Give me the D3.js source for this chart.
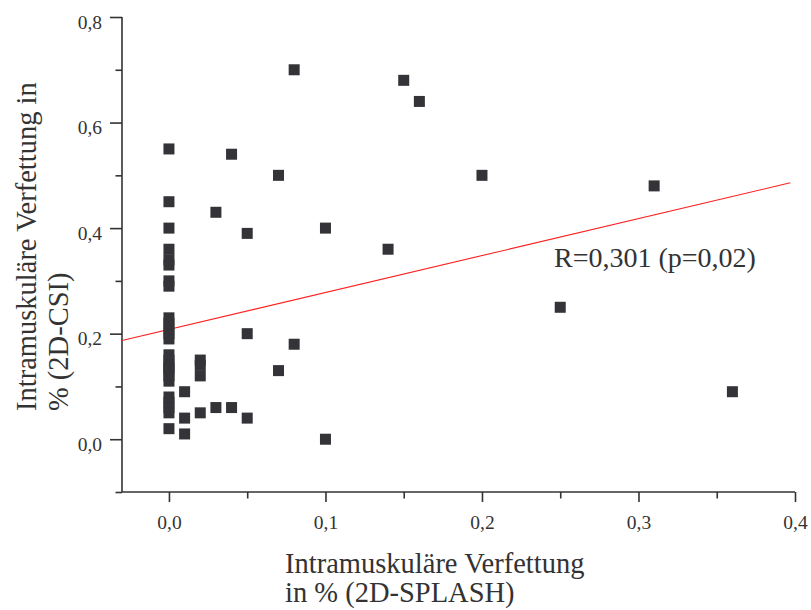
<!DOCTYPE html>
<html>
<head>
<meta charset="utf-8">
<script src="https://cdn.jsdelivr.net/npm/d3@7"></script>
<style>
  body { margin: 0; background: #fff; }
  text { font-family: 'Liberation Serif', 'Times New Roman', serif; fill: #333; }
</style>
</head>
<body>
<script>
// Messwerte: 2D-SPLASH (x) gegen 2D-CSI (y), in %
var splash = [0, 0, 0, 0, 0, 0, 0, 0, 0, 0, 0, 0, 0, 0, 0, 0, 0, 0, 0, 0, 0, 0, 0, 0, 0,
  0.01, 0.01, 0.01, 0.02, 0.02, 0.02, 0.02, 0.03, 0.03, 0.04, 0.04,
  0.05, 0.05, 0.05, 0.07, 0.07, 0.08, 0.08, 0.10, 0.10,
  0.14, 0.15, 0.16, 0.20, 0.25, 0.31, 0.36]

var csi = [0.55, 0.45, 0.40, 0.36, 0.34, 0.33, 0.30, 0.29, 0.23, 0.21, 0.20, 0.19,
  0.16, 0.15, 0.14, 0.13, 0.12, 0.11, 0.08, 0.07, 0.06, 0.05, 0.02, 0.22, 0.135,
  0.09, 0.04, 0.01, 0.15, 0.14, 0.12, 0.05, 0.43, 0.06, 0.54, 0.06,
  0.39, 0.20, 0.04, 0.50, 0.13, 0.70, 0.18, 0.40, 0.00,
  0.36, 0.68, 0.64, 0.50, 0.25, 0.48, 0.09]

// Regressionsgerade
var regAchsenabschnitt = 0.208
var regSteigung = 0.70
var regBereich = [-0.03, 0.397]
var regText = 'R=0,301 (p=0,02)'

// Achsen
var xTicks = [0, 0.1, 0.2, 0.3, 0.4]
var xTicksKlein = [0.05, 0.15, 0.25, 0.35]
var yTicks = [0, 0.2, 0.4, 0.6, 0.8]
var yTicksKlein = [-0.1, 0.1, 0.3, 0.5, 0.7]
var xTitel = ['Intramuskuläre Verfettung', 'in % (2D-SPLASH)']
var yTitel = ['Intramuskuläre Verfettung in', '% (2D-CSI)']

var breite = 811
var hoehe = 610
var komma = function (d) { return d3.format('.1f')(d).replace('.', ',') }

var svg = d3.select('body')
            .append('svg')
              .attr('width', breite)
              .attr('height', hoehe)

// Skalen
var xSkala = d3.scaleLinear()
                .domain([-0.03, 0.4])
                .range([122, 795])

var ySkala = d3.scaleLinear()
                .domain([-0.1, 0.8])
                .range([492, 17])

// Achsen zeichnen (grosse Striche mit Zahlen)
var xAchse = d3.axisBottom(xSkala)
                .tickValues(xTicks)
                .tickFormat(komma)
                .tickSize(10)
                .tickPadding(13)

var yAchse = d3.axisLeft(ySkala)
                .tickValues(yTicks)
                .tickFormat(komma)
                .tickSize(12)
                .tickPadding(8)

var gx = svg.append('g')
            .attr('transform', 'translate(0,492)')
            .call(xAchse)

var gy = svg.append('g')
            .attr('transform', 'translate(122,0)')
            .call(yAchse)

// kleine Striche in eigenen Gruppen
var gxKlein = svg.append('g')
                  .attr('transform', 'translate(0,492)')
                  .call(d3.axisBottom(xSkala).tickValues(xTicksKlein).tickFormat('').tickSize(6.5))

var gyKlein = svg.append('g')
                  .attr('transform', 'translate(122,0)')
                  .call(d3.axisLeft(ySkala).tickValues(yTicksKlein).tickFormat('').tickSize(6.5))

gxKlein.select('.domain').remove()
gyKlein.select('.domain').remove()

svg.selectAll('.domain, .tick line')
    .attr('stroke', '#333')
    .attr('stroke-width', 1.6)

// Domain-Enden ohne Ueberhang
gx.select('.domain').attr('d', 'M' + xSkala.range()[0] + ',0H' + xSkala.range()[1])
gy.select('.domain').attr('d', 'M0,' + ySkala.range()[1] + 'V' + ySkala.range()[0])

svg.selectAll('.tick text')
    .attr('font-size', 19.5)
    .attr('font-family', 'Liberation Serif')
    .attr('fill', '#333')

// y-Zahlen sitzen etwas unter dem Strich
gy.selectAll('.tick text').attr('y', 5)

// Regressionslinie
var linie = d3.line()
              .x(function (d) { return xSkala(d) })
              .y(function (d) { return ySkala(regAchsenabschnitt + regSteigung * d) })

svg.append('path')
    .attr('d', linie(regBereich))
    .attr('fill', 'none')
    .attr('stroke', '#ff2020')
    .attr('stroke-width', 1.1)

// Punkte
var seite = 11
svg.selectAll('rect.punkt')
    .data(splash)
    .enter()
    .append('rect')
      .attr('class', 'punkt')
      .attr('x', function (d) { return xSkala(d) - seite / 2 })
      .attr('y', function (d, i) { return ySkala(csi[i]) - seite / 2 })
      .attr('width', seite)
      .attr('height', seite)
      .attr('fill', '#333338')

// Beschriftung R
svg.append('text')
    .attr('x', 554)
    .attr('y', 267)
    .attr('font-size', 28)
    .text(regText)

// Achsentitel
svg.selectAll('text.xtitel')
    .data(xTitel)
    .enter()
    .append('text')
      .attr('class', 'xtitel')
      .attr('x', 285)
      .attr('y', function (d, i) { return 573 + i * 29 })
      .attr('font-size', 28.5)
      .text(function (d) { return d })

svg.selectAll('text.ytitel')
    .data(yTitel)
    .enter()
    .append('text')
      .attr('class', 'ytitel')
      .attr('transform', function (d, i) { return 'translate(' + (36 + i * 32) + ',411) rotate(-90)' })
      .attr('font-size', 28.5)
      .text(function (d) { return d })
</script>
</body>
</html>
